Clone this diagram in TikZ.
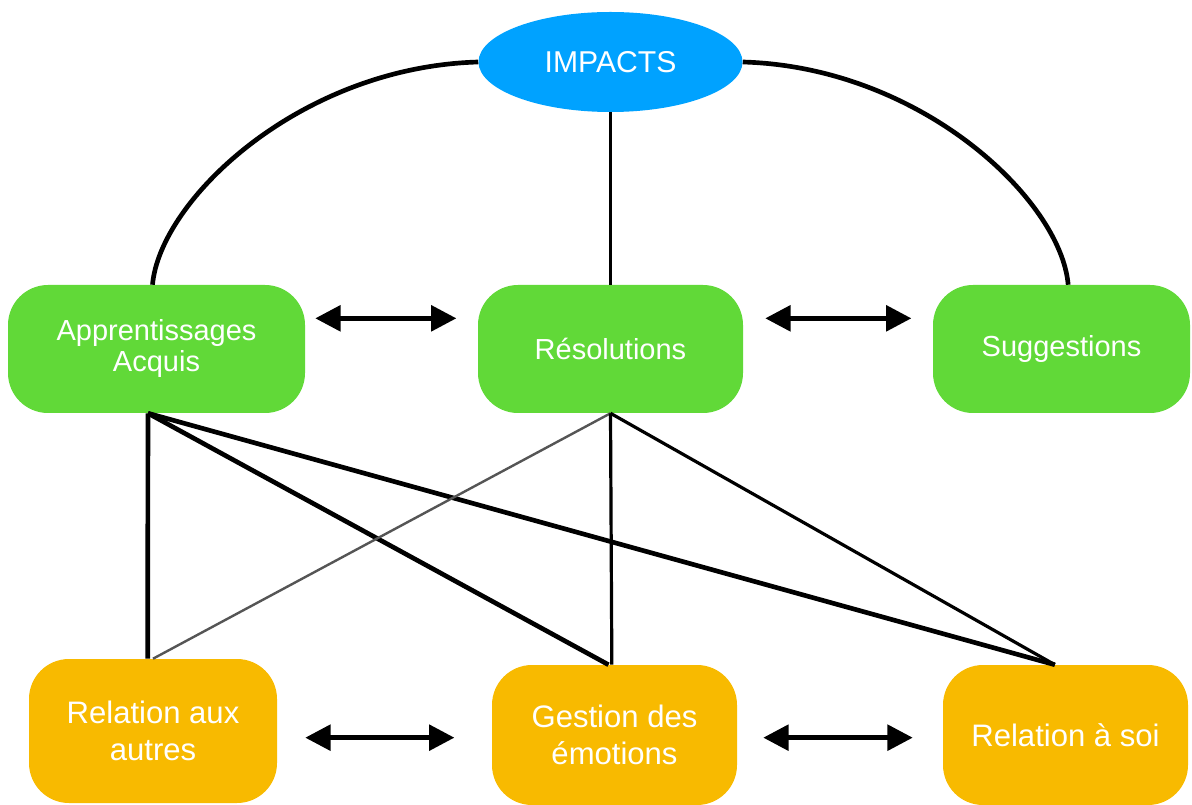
\documentclass[tikz,border=0pt]{standalone}
\usepackage{fontspec}
\setmainfont{Liberation Sans}
\usetikzlibrary{shapes.geometric,arrows.meta}
\definecolor{keyblue}{RGB}{0,162,255}
\definecolor{keygreen}{RGB}{97,217,56}
\definecolor{keyorange}{RGB}{248,186,0}

\begin{document}
\begin{tikzpicture}[x=0.75pt,y=0.75pt,yscale=-1,xscale=1,
  greenbox/.style={rounded corners=30pt,fill=keygreen,text=white,align=center,inner sep=0pt,minimum height=96pt,font=\fontsize{21.75}{23.25}\selectfont},
  orangebox/.style={rounded corners=30pt,fill=keyorange,text=white,align=center,inner sep=0pt,font=\fontsize{23.3}{27.75}\selectfont},
  link/.style={line width=3.5pt},
  thinlink/.style={line width=2.4pt},
  dblarrow/.style={line width=3.6pt,{Triangle[length=19pt,width=19pt]}-{Triangle[length=19pt,width=19pt]}}]
\useasboundingbox (0,0) rectangle (1192,805);

%Shape: Ellipse
\node (impacts) [ellipse,fill=keyblue,text=white,minimum width=198pt,minimum height=75pt,inner sep=0pt,font=\fontsize{22.6}{26}\selectfont] at (610.5,62) {IMPACTS};

%Shape: Rounded Rect
\node (appr) [greenbox,minimum width=222.75pt] at (156.5,349) {Apprentissages\\Acquis};
\node (resol) [greenbox,minimum width=198.75pt] at (610.5,349) {Résolutions};
\node (sugg) [greenbox,minimum width=192.75pt] at (1061.5,349) {Suggestions};

\node (relaut) [orangebox,minimum width=186pt,minimum height=108pt] at (153,731) {Relation aux\\autres};
\node (gestion) [orangebox,minimum width=183.75pt,minimum height=105pt] at (614.5,735) {Gestion des\\émotions};
\node (relsoi) [orangebox,minimum width=183.75pt,minimum height=105pt] at (1065.5,735) {Relation à soi};

%Curve Lines
\draw [link] (impacts.west) .. controls (300,67) and (160,200) .. ([xshift=-3pt]appr.north);
\draw [link] (impacts.east) .. controls (921,67) and (1061,200) .. ([xshift=5pt]sugg.north);
\draw [thinlink,line width=2.8pt] (impacts.south) -- (resol.north);

%Straight Lines
\draw [link] ([xshift=-6.4pt]appr.south) -- ([xshift=-4pt]relaut.north);
\draw [link] ([xshift=-6.4pt]appr.south) -- ([xshift=-4.5pt]gestion.north);
\draw [link] ([xshift=-6.4pt]appr.south) -- ([xshift=-8pt]relsoi.north);
\draw [line width=1.8pt,color={rgb,255:red,85;green,85;blue,85}] (resol.south) -- (relaut.north);
\draw [thinlink] (resol.south) -- ([xshift=-2pt]gestion.north);
\draw [thinlink] (resol.south) -- ([xshift=-8pt]relsoi.north);

%Double Arrows
\draw [dblarrow] ([xshift=7.5pt,yshift=-23pt]appr.east) -- ([xshift=-16pt,yshift=-23pt]resol.west);
\draw [dblarrow] ([xshift=16.5pt,yshift=-23pt]resol.east) -- ([xshift=-16pt,yshift=-23pt]sugg.west);
\draw [dblarrow] ([xshift=21pt,yshift=5pt]relaut.east) -- ([xshift=-28pt,yshift=2pt]gestion.west);
\draw [dblarrow] ([xshift=19.5pt,yshift=2pt]gestion.east) -- ([xshift=-22.5pt,yshift=2pt]relsoi.west);

\end{tikzpicture}
\end{document}
